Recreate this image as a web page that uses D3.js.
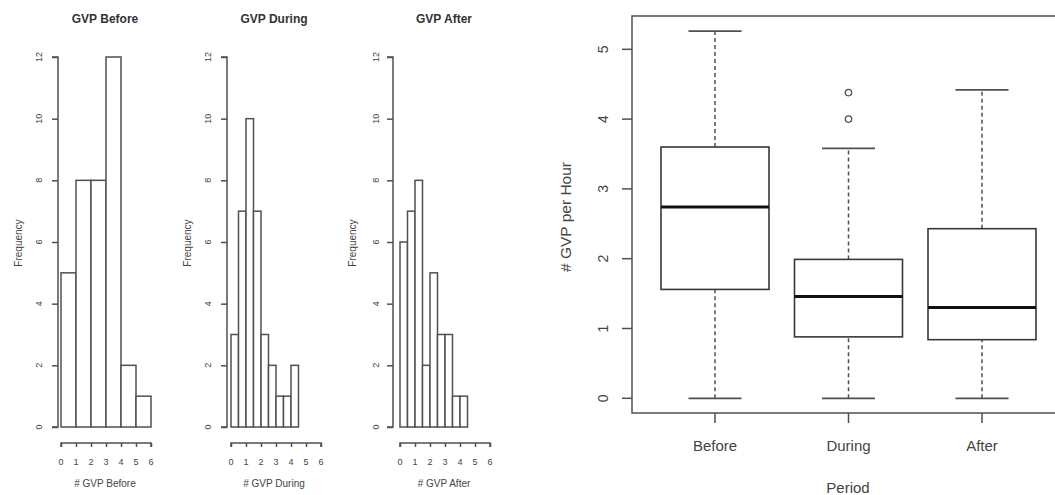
<!DOCTYPE html>
<html>
<head>
<meta charset="utf-8">
<script src="https://cdn.jsdelivr.net/npm/d3@7/dist/d3.min.js"></script>
<style>
  html, body { margin: 0; padding: 0; background: #fff; }
  svg { display: block; font-family: "Liberation Sans", Arial, sans-serif; }
</style>
</head>
<body>
<svg id="chart" width="1055" height="495"></svg>
<script>
// Histogram bins: edges (number of GVP per hour) and counts per bin
const beforeEdges = [0, 1, 2, 3, 4, 5, 6];
const beforeCounts = [5, 8, 8, 12, 2, 1];
const duringEdges = [0, 0.5, 1, 1.5, 2, 2.5, 3, 3.5, 4, 4.5];
const duringCounts = [3, 7, 10, 7, 3, 2, 1, 1, 2];
const afterEdges = [0, 0.5, 1, 1.5, 2, 2.5, 3, 3.5, 4, 4.5];
const afterCounts = [6, 7, 8, 2, 5, 3, 3, 1, 1];

const histTitles = ["GVP Before", "GVP During", "GVP After"];
const histXLabels = ["# GVP Before", "# GVP During", "# GVP After"];
const histXTicks = [0, 1, 2, 3, 4, 5, 6];
const histYTicks = [0, 2, 4, 6, 8, 10, 12];

// Box plot summary per period: lower whisker, Q1, median, Q3, upper whisker
const periods = ["Before", "During", "After"];
const whiskerLow = [0, 0, 0];
const q1 = [1.56, 0.88, 0.84];
const median = [2.74, 1.46, 1.30];
const q3 = [3.60, 1.99, 2.43];
const whiskerHigh = [5.26, 3.58, 4.42];
const outliers = [[], [4.0, 4.38], []];
const boxYTicks = [0, 1, 2, 3, 4, 5];

const svg = d3.select("#chart");
const lineCol = "#505050";
const textCol = "#444";

// ---- Histograms ----
const histPanels = [
  { edges: beforeEdges, counts: beforeCounts, axisX: 58, x0: 61, x6: 151, cx: 105, freqX: 18, tickLblX: 39 },
  { edges: duringEdges, counts: duringCounts, axisX: 227, x0: 231, x6: 321, cx: 274, freqX: 187, tickLblX: 208 },
  { edges: afterEdges, counts: afterCounts, axisX: 393, x0: 400, x6: 490, cx: 444, freqX: 352, tickLblX: 376 }
];

histPanels.forEach((p, i) => {
  const g = svg.append("g");
  const x = d3.scaleLinear().domain([0, 6]).range([p.x0, p.x6]);
  const y = d3.scaleLinear().domain([0, 12]).range([427, 57]);

  // bars
  const bins = p.counts.map((c, j) => ({ lo: p.edges[j], hi: p.edges[j + 1], c }));
  g.selectAll("rect.bar").data(bins).join("rect")
    .attr("x", d => x(d.lo))
    .attr("y", d => y(d.c))
    .attr("width", d => x(d.hi) - x(d.lo))
    .attr("height", d => y(0) - y(d.c))
    .attr("fill", "#fff")
    .attr("stroke", lineCol)
    .attr("stroke-width", 1.5);

  // y axis
  const yAxis = d3.axisLeft(y).tickValues(histYTicks).tickSize(6).tickFormat("");
  const ya = g.append("g").attr("transform", `translate(${p.axisX},0)`).call(yAxis);
  ya.select(".domain").attr("stroke", lineCol).attr("stroke-width", 1.5)
    .attr("d", `M-6,${y(0)}H0V${y(12)}H-6`);
  ya.selectAll(".tick line").attr("stroke", lineCol).attr("stroke-width", 1.5);
  g.selectAll("text.ytl").data(histYTicks).join("text")
    .attr("class", "ytl")
    .attr("transform", d => `translate(${p.tickLblX},${y(d)}) rotate(-90)`)
    .attr("text-anchor", "middle").attr("dy", "0.35em")
    .attr("font-size", 9).attr("fill", textCol).text(d => d);

  // x axis
  const xAxis = d3.axisBottom(x).tickValues(histXTicks).tickSize(4).tickFormat("");
  const xa = g.append("g").attr("transform", "translate(0,443)").call(xAxis);
  xa.select(".domain").attr("stroke", lineCol).attr("stroke-width", 1.5)
    .attr("d", `M${x(0)},4V0H${x(6)}V4`);
  xa.selectAll(".tick line").attr("stroke", lineCol).attr("stroke-width", 1.5);
  g.selectAll("text.xtl").data(histXTicks).join("text")
    .attr("class", "xtl")
    .attr("x", d => x(d)).attr("y", 465)
    .attr("text-anchor", "middle")
    .attr("font-size", 9).attr("fill", textCol).text(d => d);

  // titles and labels
  g.append("text").attr("x", p.cx).attr("y", 23).attr("text-anchor", "middle")
    .attr("font-size", 12).attr("font-weight", "bold").attr("fill", "#333")
    .text(histTitles[i]);
  g.append("text").attr("x", p.cx).attr("y", 487).attr("text-anchor", "middle")
    .attr("font-size", 10).attr("fill", textCol).text(histXLabels[i]);
  g.append("text").attr("transform", `translate(${p.freqX},243) rotate(-90)`)
    .attr("text-anchor", "middle").attr("dy", "0.35em")
    .attr("font-size", 10).attr("fill", textCol).text("Frequency");
});

// ---- Box plot ----
const bp = svg.append("g");
const frameL = 632, frameT = 16, frameB = 413, frameR = 1070;
const yB = d3.scaleLinear().domain([0, 5]).range([398.3, 49.3]);
const xB = d3.scalePoint().domain(periods).range([715, 982]);
const boxW = 108, capW = 53;

bp.append("rect").attr("x", frameL).attr("y", frameT)
  .attr("width", frameR - frameL).attr("height", frameB - frameT)
  .attr("fill", "none").attr("stroke", lineCol).attr("stroke-width", 1.5);

const stats = periods.map((p, i) => ({
  p, lo: whiskerLow[i], q1: q1[i], med: median[i], q3: q3[i], hi: whiskerHigh[i], out: outliers[i]
}));

const groups = bp.selectAll("g.box").data(stats).join("g").attr("class", "box");
// whiskers (dashed)
groups.append("line").attr("x1", d => xB(d.p)).attr("x2", d => xB(d.p))
  .attr("y1", d => yB(d.q3)).attr("y2", d => yB(d.hi))
  .attr("stroke", lineCol).attr("stroke-width", 1.5).attr("stroke-dasharray", "4,3");
groups.append("line").attr("x1", d => xB(d.p)).attr("x2", d => xB(d.p))
  .attr("y1", d => yB(d.lo)).attr("y2", d => yB(d.q1))
  .attr("stroke", lineCol).attr("stroke-width", 1.5).attr("stroke-dasharray", "4,3");
// caps
groups.append("line").attr("x1", d => xB(d.p) - capW / 2).attr("x2", d => xB(d.p) + capW / 2)
  .attr("y1", d => yB(d.hi)).attr("y2", d => yB(d.hi))
  .attr("stroke", lineCol).attr("stroke-width", 1.8);
groups.append("line").attr("x1", d => xB(d.p) - capW / 2).attr("x2", d => xB(d.p) + capW / 2)
  .attr("y1", d => yB(d.lo)).attr("y2", d => yB(d.lo))
  .attr("stroke", lineCol).attr("stroke-width", 1.8);
// box
groups.append("rect").attr("x", d => xB(d.p) - boxW / 2).attr("width", boxW)
  .attr("y", d => yB(d.q3)).attr("height", d => yB(d.q1) - yB(d.q3))
  .attr("fill", "#fff").attr("stroke", "#383838").attr("stroke-width", 1.6);
// median
groups.append("line").attr("x1", d => xB(d.p) - boxW / 2).attr("x2", d => xB(d.p) + boxW / 2)
  .attr("y1", d => yB(d.med)).attr("y2", d => yB(d.med))
  .attr("stroke", "#111").attr("stroke-width", 3);
// outliers
groups.selectAll("circle").data(d => d.out.map(v => ({ p: d.p, v }))).join("circle")
  .attr("cx", d => xB(d.p)).attr("cy", d => yB(d.v)).attr("r", 3.2)
  .attr("fill", "none").attr("stroke", lineCol).attr("stroke-width", 1.3);

// y axis
bp.selectAll("line.yt").data(boxYTicks).join("line").attr("class", "yt")
  .attr("x1", frameL - 10).attr("x2", frameL).attr("y1", d => yB(d)).attr("y2", d => yB(d))
  .attr("stroke", lineCol).attr("stroke-width", 1.5);
bp.selectAll("text.ytl").data(boxYTicks).join("text").attr("class", "ytl")
  .attr("transform", d => `translate(603,${yB(d)}) rotate(-90)`)
  .attr("text-anchor", "middle").attr("dy", "0.35em")
  .attr("font-size", 14).attr("fill", textCol).text(d => d);
bp.append("text").attr("transform", "translate(566,217) rotate(-90)")
  .attr("text-anchor", "middle").attr("dy", "0.35em")
  .attr("font-size", 15.5).attr("fill", textCol).text("# GVP per Hour");

// x axis
bp.selectAll("line.xt").data(periods).join("line").attr("class", "xt")
  .attr("x1", d => xB(d)).attr("x2", d => xB(d)).attr("y1", frameB).attr("y2", frameB + 10)
  .attr("stroke", lineCol).attr("stroke-width", 1.5);
bp.selectAll("text.xtl").data(periods).join("text").attr("class", "xtl")
  .attr("x", d => xB(d)).attr("y", 451).attr("text-anchor", "middle")
  .attr("font-size", 15).attr("fill", textCol).text(d => d);
bp.append("text").attr("x", 848).attr("y", 493).attr("text-anchor", "middle")
  .attr("font-size", 15).attr("fill", textCol).text("Period");
</script>
</body>
</html>
